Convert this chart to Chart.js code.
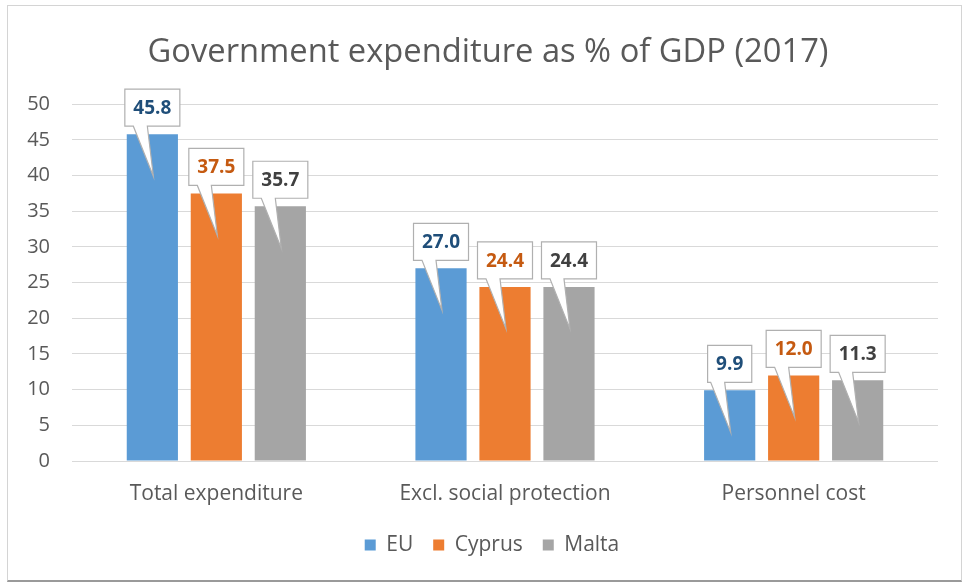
<!DOCTYPE html>
<html>
<head>
<meta charset="utf-8">
<script src="https://cdn.jsdelivr.net/npm/chart.js@4"></script>
<style>
	body { margin: 0; background: #fff; }
	#frame {
		position: absolute; left: 7px; top: 5px; width: 955px; height: 577px;
		border: 1px solid #d4d4d4; border-bottom: 2px solid #9a9a9a; box-sizing: border-box;
	}
	#wrap { position: absolute; left: 0; top: 0; width: 966px; height: 585px; }
</style>
</head>
<body>
<div id="frame"></div>
<div id="wrap"><canvas id="govChart"></canvas></div>
<script>
const categories = ["Total expenditure", "Excl. social protection", "Personnel cost"];
const euValues = [45.8, 27.0, 9.9];
const cyprusValues = [37.5, 24.4, 12.0];
const maltaValues = [35.7, 24.4, 11.3];
const yTicks = [0, 5, 10, 15, 20, 25, 30, 35, 40, 45, 50];

const fontFamily = "'Open Sans', Lato, sans-serif";
const textGrey = "#595959";

// centre title and legend over the whole frame rather than the padded box
const centreBlocks = {
	id: "centreBlocks",
	afterLayout(chart) {
		chart.titleBlock.left += 30;
		chart.legend.left += 38;
	}
};

// callout boxes with a pointer tail into each bar
const calloutPlugin = {
	id: "callouts",
	afterDatasetsDraw(chart) {
		const ctx = chart.ctx;
		chart.data.datasets.forEach((ds, i) => {
			const meta = chart.getDatasetMeta(i);
			meta.data.forEach((bar, j) => {
				const text = ds.data[j].toFixed(1);
				ctx.save();
				ctx.font = "bold 19px " + fontFamily;
				const w = ctx.measureText(text).width + 17;
				const h = 37;
				const cx = bar.x;
				const bottom = bar.y - 8;
				const top = bottom - h;
				const left = cx - w / 2;
				const tipY = bar.y + 42;

				ctx.fillStyle = "#ffffff";
				ctx.strokeStyle = "#b0b0b0";
				ctx.lineWidth = 1.2;
				ctx.beginPath();
				ctx.moveTo(left, top);
				ctx.lineTo(left + w, top);
				ctx.lineTo(left + w, bottom);
				ctx.lineTo(cx - 5, bottom);
				ctx.lineTo(cx + 1, tipY);
				ctx.lineTo(cx - 19, bottom);
				ctx.lineTo(left, bottom);
				ctx.closePath();
				ctx.fill();
				ctx.stroke();

				ctx.fillStyle = ds.labelColor;
				ctx.textAlign = "center";
				ctx.textBaseline = "middle";
				ctx.fillText(text, cx, top + h / 2 + 1);
				ctx.restore();
			});
		});
	}
};

new Chart(document.getElementById("govChart"), {
	type: "bar",
	data: {
		labels: categories,
		datasets: [
			{ label: "EU", data: euValues, backgroundColor: "#5B9BD5", labelColor: "#1F4E79" },
			{ label: "Cyprus", data: cyprusValues, backgroundColor: "#ED7D31", labelColor: "#C55A11" },
			{ label: "Malta", data: maltaValues, backgroundColor: "#A5A5A5", labelColor: "#404040" }
		]
	},
	options: {
		responsive: true,
		maintainAspectRatio: false,
		animation: false,
		datasets: { bar: { barPercentage: 0.8, categoryPercentage: 0.665 } },
		layout: { padding: { left: 8, right: 28, top: 12, bottom: 19.5 } },
		plugins: {
			title: {
				display: true,
				text: "Government expenditure as % of GDP (2017)",
				color: textGrey,
				font: { family: fontFamily, size: 32.7, weight: "normal" },
				padding: { top: 21, bottom: 32 }
			},
			legend: {
				position: "bottom",
				labels: {
					color: textGrey,
					font: { family: fontFamily, size: 21 },
					boxWidth: 11,
					boxHeight: 11,
					padding: 20
				}
			},
			tooltip: { enabled: false }
		},
		scales: {
			x: {
				afterFit(scale) {
					scale.height = 53.5;
				},
				grid: { display: false },
				border: { display: false },
				ticks: { color: textGrey, font: { family: fontFamily, size: 21 }, padding: 12 }
			},
			y: {
				min: 0,
				max: 50,
				afterBuildTicks(scale) {
					scale.ticks = yTicks.map(v => ({ value: v }));
				},
				afterFit(scale) {
					scale.width = 64;
				},
				grid: { color: "#d9d9d9", drawTicks: false },
				border: { display: false },
				ticks: { color: textGrey, font: { family: fontFamily, size: 20 }, padding: 22 }
			}
		}
	},
	plugins: [centreBlocks, calloutPlugin]
});
</script>
</body>
</html>
